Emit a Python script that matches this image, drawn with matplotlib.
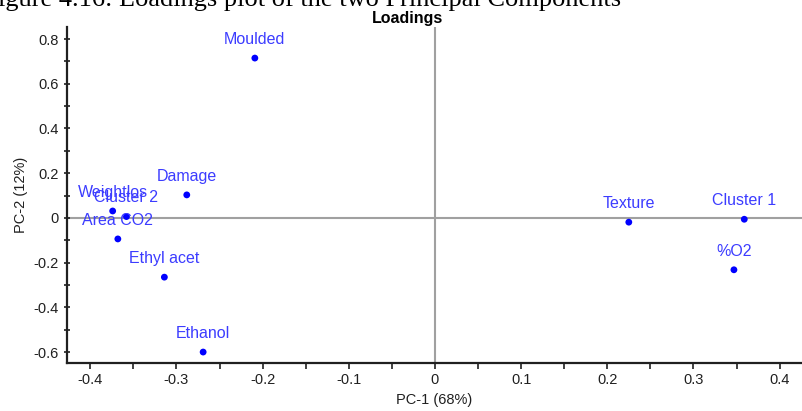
import matplotlib
matplotlib.use("Agg")
import matplotlib.pyplot as plt
from matplotlib.ticker import MultipleLocator

plt.rcParams['font.family'] = ['Liberation Sans', 'DejaVu Sans']

labels = ["Moulded", "Damage", "Weightlos", "Cluster 2", "Area CO2", "Ethyl acet",
          "Ethanol", "Texture", "Cluster 1", "%O2"]
pc1 = [-0.209, -0.288, -0.374, -0.358, -0.368, -0.314, -0.269, 0.225, 0.359, 0.347]
pc2 = [0.715, 0.103, 0.031, 0.006, -0.094, -0.265, -0.600, -0.019, -0.006, -0.232]

W, H = 802, 411
fig = plt.figure(figsize=(W / 100, H / 100), dpi=100)
ax = fig.add_axes([67 / W, 1 - 363 / H, (802 - 67) / W, (363 - 27) / H])

ax.set_xlim(-0.427, 0.426)
ax.set_ylim(-0.649, 0.854)
ax.axhline(0, color="#a0a0a0", lw=1.5, zorder=1)
ax.axvline(0, color="#a0a0a0", lw=1.5, zorder=1)

ax.scatter(pc1, pc2, s=24, color="#0000ff", zorder=3, edgecolors="none")
for x, y, t in zip(pc1, pc2, labels):
    ax.annotate(t, (x, y), xytext=(0, 8), textcoords="offset points",
                ha="center", va="bottom", color="#3c3cff", fontsize=11.5,
                zorder=4)

for s in ["top", "right"]:
    ax.spines[s].set_visible(False)
for s in ["left", "bottom"]:
    ax.spines[s].set_linewidth(1.6)
    ax.spines[s].set_color("#202020")

ax.xaxis.set_major_locator(MultipleLocator(0.1))
ax.xaxis.set_minor_locator(MultipleLocator(0.05))
ax.yaxis.set_major_locator(MultipleLocator(0.2))
ax.yaxis.set_minor_locator(MultipleLocator(0.1))
ax.tick_params(axis="x", which="both", direction="out", length=4, width=1.2,
               colors="#202020", labelsize=10.5)
ax.tick_params(axis="y", which="both", direction="inout", length=5, width=1.2,
               colors="#202020", labelsize=10.5)

def fmt(v, pos):
    if abs(v) < 1e-9:
        return "0"
    return ("%g" % round(v, 2))
ax.xaxis.set_major_formatter(plt.FuncFormatter(fmt))
ax.yaxis.set_major_formatter(plt.FuncFormatter(fmt))

ax.set_xlabel("PC-1 (68%)", fontsize=10.5, color="#202020", labelpad=4)
ax.set_ylabel("PC-2 (12%)", fontsize=10.5, color="#202020", labelpad=4)

fig.text(408 / W, 1 - 18 / H, "Loadings", ha="center", va="center",
         fontsize=11.5, fontweight="bold")
fig.text(-0.002, 1 - 6 / H, "igure 4.16: Loadings plot of the two Principal Components",
         ha="left", va="baseline", fontsize=19, family=['Liberation Serif'], color="black")

fig.savefig("out.png", dpi=100)
